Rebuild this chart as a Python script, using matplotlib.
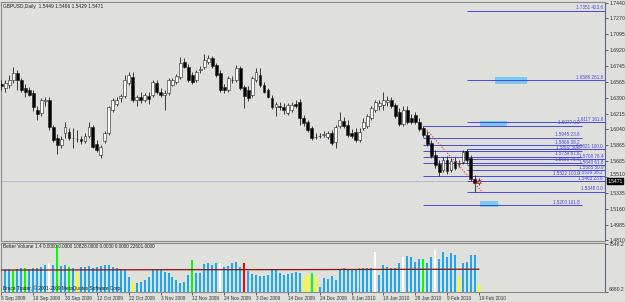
import matplotlib
matplotlib.use("Agg")
import matplotlib.pyplot as plt
import matplotlib.transforms as mtransforms
from matplotlib.patches import Rectangle

# GBPUSD daily candles, 8 Sep 2009 .. 19 Feb 2010
opens = [
    1.6543, 1.6498, 1.6532, 1.6587, 1.6664, 1.6587, 1.6498, 1.6476, 1.6443, 1.6255,
    1.6222, 1.6354, 1.6365, 1.6066, 1.5945, 1.5867, 1.6000, 1.6011, 1.5945, 1.5933,
    1.5933, 1.5911, 1.5967, 1.6066, 1.5878, 1.5756, 1.5911, 1.6000, 1.6255, 1.6321,
    1.6388, 1.6410, 1.6554, 1.6620, 1.6365, 1.6399, 1.6365, 1.6410, 1.6421, 1.6554,
    1.6454, 1.6421, 1.6443, 1.6532, 1.6565, 1.6620, 1.6786, 1.6731, 1.6642, 1.6587,
    1.6698, 1.6731, 1.6786, 1.6831, 1.6753, 1.6664, 1.6509, 1.6476, 1.6587, 1.6587,
    1.6720, 1.6509, 1.6476, 1.6421, 1.6587, 1.6642, 1.6532, 1.6476, 1.6388, 1.6288,
    1.6299, 1.6288, 1.6222, 1.6255, 1.6321, 1.6343, 1.6166, 1.6122, 1.6055, 1.5956,
    1.5967, 1.5978, 1.5956, 1.6000, 1.5900, 1.6077, 1.6133, 1.6089, 1.6000, 1.6011,
    1.5922, 1.6055, 1.6077, 1.6166, 1.6255, 1.6299, 1.6310, 1.6343, 1.6365, 1.6310,
    1.6233, 1.6100, 1.6255, 1.6166, 1.6199, 1.6122, 1.6055, 1.5978, 1.5889, 1.5756,
    1.5657, 1.5590, 1.5701, 1.5590, 1.5690, 1.5657, 1.5679, 1.5801, 1.5723, 1.5490,
    1.5449,
]
highs = [
    1.6587, 1.6587, 1.6642, 1.6731, 1.6698, 1.6609, 1.6543, 1.6509, 1.6476, 1.6299,
    1.6388, 1.6399, 1.6399, 1.6089, 1.5989, 1.5967, 1.6122, 1.6055, 1.6055, 1.6033,
    1.5967, 1.6000, 1.6122, 1.6089, 1.5922, 1.5867, 1.6022, 1.6299, 1.6388, 1.6399,
    1.6432, 1.6642, 1.6676, 1.6676, 1.6421, 1.6454, 1.6443, 1.6454, 1.6587, 1.6587,
    1.6498, 1.6476, 1.6609, 1.6609, 1.6653, 1.6842, 1.6831, 1.6764, 1.6676, 1.6698,
    1.6742, 1.6875, 1.6864, 1.6853, 1.6775, 1.6698, 1.6543, 1.6631, 1.6631, 1.6753,
    1.6742, 1.6532, 1.6520, 1.6631, 1.6720, 1.6720, 1.6565, 1.6498, 1.6421, 1.6343,
    1.6343, 1.6332, 1.6332, 1.6343, 1.6365, 1.6377, 1.6199, 1.6144, 1.6077, 1.6000,
    1.6000, 1.6022, 1.6022, 1.6033, 1.6089, 1.6233, 1.6177, 1.6144, 1.6044, 1.6055,
    1.6055, 1.6166, 1.6210, 1.6299, 1.6365, 1.6365, 1.6454, 1.6410, 1.6399, 1.6332,
    1.6277, 1.6299, 1.6299, 1.6210, 1.6233, 1.6166, 1.6077, 1.6022, 1.5922, 1.5812,
    1.5701, 1.5734, 1.5745, 1.5723, 1.5734, 1.5701, 1.5812, 1.5821, 1.5756, 1.5535,
    1.5496,
]
lows = [
    1.6476, 1.6454, 1.6498, 1.6554, 1.6476, 1.6454, 1.6399, 1.6410, 1.6244, 1.6144,
    1.6188, 1.6299, 1.6033, 1.5900, 1.5767, 1.5834, 1.5945, 1.5922, 1.5834, 1.5900,
    1.5878, 1.5889, 1.5945, 1.5834, 1.5790, 1.5723, 1.5889, 1.5978, 1.6233, 1.6299,
    1.6343, 1.6388, 1.6532, 1.6343, 1.6299, 1.6332, 1.6343, 1.6321, 1.6399, 1.6432,
    1.6399, 1.6255, 1.6421, 1.6520, 1.6543, 1.6598, 1.6720, 1.6565, 1.6543, 1.6565,
    1.6664, 1.6709, 1.6764, 1.6720, 1.6620, 1.6454, 1.6443, 1.6454, 1.6554, 1.6565,
    1.6476, 1.6277, 1.6354, 1.6399, 1.6565, 1.6509, 1.6443, 1.6388, 1.6266, 1.6188,
    1.6255, 1.6210, 1.6199, 1.6233, 1.6277, 1.6089, 1.6077, 1.6011, 1.5922, 1.5933,
    1.5945, 1.5956, 1.5933, 1.5867, 1.5834, 1.6055, 1.6055, 1.5956, 1.5945, 1.5900,
    1.5900, 1.6033, 1.6055, 1.6144, 1.6233, 1.6255, 1.6255, 1.6299, 1.6277, 1.6166,
    1.6077, 1.6077, 1.6100, 1.6100, 1.6100, 1.6022, 1.5956, 1.5856, 1.5723, 1.5612,
    1.5522, 1.5568, 1.5546, 1.5568, 1.5590, 1.5623, 1.5657, 1.5657, 1.5468, 1.5348,
    1.5429,
]
closes = [
    1.6520, 1.6554, 1.6587, 1.6664, 1.6587, 1.6476, 1.6454, 1.6421, 1.6288, 1.6210,
    1.6365, 1.6365, 1.6066, 1.5922, 1.5867, 1.5933, 1.6066, 1.5945, 1.5940, 1.5930,
    1.5911, 1.5967, 1.6066, 1.5845, 1.5812, 1.5845, 1.6000, 1.6288, 1.6365, 1.6365,
    1.6410, 1.6587, 1.6642, 1.6365, 1.6399, 1.6365, 1.6421, 1.6377, 1.6565, 1.6454,
    1.6421, 1.6443, 1.6587, 1.6587, 1.6631, 1.6775, 1.6731, 1.6587, 1.6565, 1.6676,
    1.6709, 1.6808, 1.6831, 1.6742, 1.6642, 1.6476, 1.6476, 1.6609, 1.6583, 1.6720,
    1.6498, 1.6410, 1.6388, 1.6609, 1.6676, 1.6532, 1.6454, 1.6399, 1.6288, 1.6321,
    1.6292, 1.6255, 1.6310, 1.6310, 1.6299, 1.6166, 1.6111, 1.6033, 1.5945, 1.5960,
    1.5963, 1.5989, 1.6000, 1.5889, 1.6066, 1.6144, 1.6077, 1.5978, 1.5967, 1.5922,
    1.6011, 1.6122, 1.6188, 1.6277, 1.6343, 1.6332, 1.6365, 1.6365, 1.6299, 1.6188,
    1.6100, 1.6255, 1.6122, 1.6122, 1.6122, 1.6044, 1.5978, 1.5878, 1.5745, 1.5645,
    1.5568, 1.5701, 1.5579, 1.5690, 1.5612, 1.5664, 1.5790, 1.5701, 1.5490, 1.5449,
    1.5471,
]

# Better Volume histogram (indicator scale) and its special-colour bars
volumes = [
    7232, 7195, 7195, 7185, 7195, 7209, 7209, 7195, 7209, 7218,
    7222, 7255, 7287, 7255, 7532, 7241, 7255, 7232, 7218, 7139,
    7232, 7222, 7241, 7218, 7232, 7241, 7255, 7255, 7232, 7209,
    7195, 7195, 7084, 7024, 7000, 7024, 7047, 7093, 7185, 7199,
    7185, 7162, 7139, 7084, 7047, 7010, 7024, 7116, 7324, 7148,
    7139, 7264, 7287, 7255, 7278, 7278, 7232, 7241, 7287, 7301,
    7232, 7278, 7176, 7130, 7116, 7102, 7102, 7116, 7185, 7195,
    7148, 7116, 7130, 7139, 7162, 7139, 7084, 7116, 7139, 7084,
    6950, 7070, 7056, 7102, 7047, 7195, 7209, 7195, 7185, 7195,
    7209, 7209, 7209, 7209, 7440, 7116, 7255, 7232, 7209, 7209,
    7287, 7370, 7380, 7361, 7301, 7333, 7333, 7287, 7361, 7463,
    7333, 7440, 7361, 7417, 7394, 7084, 7278, 7301, 7394, 7394,
    6977,
]
special_bars = {
    3: 'lime', 6: 'lime', 12: 'white', 14: 'lime', 17: 'lime', 19: 'yellow',
    33: 'yellow', 48: 'lime', 55: 'white', 61: 'red', 76: 'yellow', 77: 'yellow',
    78: 'lime', 79: 'yellow', 94: 'white', 101: 'white', 106: 'lime', 109: 'white',
    115: 'yellow', 120: 'yellow',
}
ma_idx = [0, 15, 30, 45, 60, 75, 90, 105, 120]
ma_vals = [7185, 7186, 7188, 7190, 7190, 7191, 7193, 7195, 7196]

# Fibonacci objects: (price, ratio)
fib_a = [(1.6077, '0.0'), (1.5945, '23.6'), (1.5866, '38.2'), (1.5802, '50.0'),
         (1.5739, '61.8'), (1.5669, '76.4'), (1.5522, '100.0'), (1.5200, '161.8')]
fib_b = [(1.5348, '0.0'), (1.5463, '23.6'), (1.5529, '38.2'), (1.5585, '50.0'),
         (1.5640, '61.8'), (1.5709, '76.4'), (1.5821, '100.0'), (1.6117, '161.8'),
         (1.6586, '261.8'), (1.7351, '423.6')]
fib_a_span = (106, 145.9)
fib_b_span = (117, 151.7)
# target boxes: (first bar, last bar, low, high)
zones = [(124.0, 132.1, 1.6543, 1.6620), (120.3, 127.0, 1.6066, 1.6133),
         (120.3, 124.8, 1.5180, 1.5247)]
trend_x = [106, 121]
trend_p = [1.6077, 1.5340]
bid = 1.5471

price_ticks = [1.7440, 1.7270, 1.7095, 1.6920, 1.6745, 1.6565, 1.6390, 1.6215,
               1.6040, 1.5865, 1.5685, 1.5510, 1.5335, 1.5160, 1.4985, 1.4810]
date_labels = ['8 Sep 2009', '18 Sep 2009', '30 Sep 2009', '12 Oct 2009',
               '22 Oct 2009', '3 Nov 2009', '12 Nov 2009', '24 Nov 2009',
               '3 Dec 2009', '14 Dec 2009', '24 Dec 2009', '6 Jan 2010',
               '18 Jan 2010', '28 Jan 2010', '9 Feb 2010', '19 Feb 2010']
date_idx = [8 * k for k in range(len(date_labels))]

W, H = 625, 302
BG = '#dfdfdc'
FIB = '#4848e4'
AXC = '#5c6488'
plt.rcParams['font.family'] = ['Liberation Sans', 'DejaVu Sans']


def box(x0, y0, x1, y1):
    # figure rectangle from pixel edges, y counted from the top
    return [x0 / W, 1 - y1 / H, (x1 - x0) / W, (y1 - y0) / H]


fig = plt.figure(figsize=(W / 100, H / 100), dpi=100, facecolor=BG)
ax = fig.add_axes(box(1, 2, 605, 241), facecolor=BG)
axv = fig.add_axes(box(1, 243, 605, 292), facecolor=BG)

n = len(opens)
idx = list(range(n))
xlim = (-0.1, 151.7)

# --- price window ---
ax.axhline(bid, color='#aab4d6', lw=0.6, zorder=1)
for x0, x1, lo, hi in zones:
    ax.add_patch(Rectangle((x0, lo), x1 - x0, hi - lo, color='#78c8f0', lw=0, zorder=2))
for p, r in fib_a:
    ax.hlines(p, *fib_a_span, color=FIB, lw=0.7, zorder=3)
    ax.text(fib_a_span[1] - 0.5, p + 0.0006, f'{p:.4f} {r}', fontsize=3.3,
            color=FIB, ha='right', va='bottom', zorder=6)
for p, r in fib_b:
    ax.hlines(p, *fib_b_span, color=FIB, lw=0.7, zorder=3)
    ax.text(fib_b_span[1] - 0.5, p + 0.0006, f'{p:.4f} {r}', fontsize=3.3,
            color=FIB, ha='right', va='bottom', zorder=6)

ax.vlines(idx, lows, highs, color='#202020', lw=0.6, zorder=4)
bodies = [c - o for o, c in zip(opens, closes)]
body_cols = ['white' if c >= o else 'black' for o, c in zip(opens, closes)]
ax.bar(idx, bodies, bottom=opens, width=0.72, color=body_cols,
       edgecolor='#202020', linewidth=0.4, zorder=5)
ax.plot(trend_x, trend_p, color='#e03434', lw=0.8, ls=(0, (1, 1.5)), zorder=6)
ax.plot([n - 1], [bid], marker='x', color='#e03434', ms=2.5, mew=0.6, zorder=7)

ax.set_xlim(*xlim)
ax.set_ylim(1.7473 - 0.0011076 * 241, 1.7473 - 0.0011076 * 2)
ax.set_xticks([])
ax.yaxis.tick_right()
ax.set_yticks(price_ticks, labels=[f'{p:.4f}' for p in price_ticks])
ax.tick_params(axis='y', length=2, width=0.5, pad=1, labelsize=3.7,
               colors='#303030')
# the 1.5510 label sits just above the current-price tag
ax.get_yticklabels()[price_ticks.index(1.5510)].set_verticalalignment('bottom')
ax.text(0.003, 0.99, 'GBPUSD,Daily  1.5449 1.5496 1.5429 1.5471',
        transform=ax.transAxes, va='top', ha='left', fontsize=3.5, color='#202020')
tr = mtransforms.blended_transform_factory(ax.transAxes, ax.transData)
ax.text(1.004, bid - 0.0004, f'{bid:.4f}', transform=tr, fontsize=3.6, color='white',
        va='center', ha='left', zorder=10, clip_on=False,
        bbox=dict(boxstyle='square,pad=0.12', fc='black', ec='black'))

# --- volume window ---
vol_cols = [special_bars.get(i, '#1ea8ee') for i in idx]
axv.bar(idx, volumes, width=0.5, color=vol_cols, linewidth=0, zorder=2)
axv.plot(ma_idx, ma_vals, color='#8a1010', lw=0.9, zorder=3)
axv.set_xlim(*xlim)
axv.set_ylim(6880.2, 7560)
axv.yaxis.tick_right()
axv.set_yticks([6880.2, 7546.2], labels=['6880.2', '7546.2'])
axv.tick_params(axis='y', length=2, width=0.5, pad=1, labelsize=3.7, colors='#303030')
axv.get_yticklabels()[0].set_verticalalignment('bottom')
axv.set_xticks(date_idx, labels=date_labels)
axv.tick_params(axis='x', length=2, width=0.5, pad=0.8, labelsize=3.4, colors='#303030')
for lab in axv.get_xticklabels():
    lab.set_horizontalalignment('left')
axv.text(0.003, 0.97, 'Better Volume 1.4 0.0000 0.0000 10828.0000 0.0000 0.0000 22601.0000',
         transform=axv.transAxes, va='top', ha='left', fontsize=3.4, color='#202020')
axv.text(0.003, 0.03, 'Bruce Trader, \u00a9 2001-2009 MetaQuotes Software Corp.',
         transform=axv.transAxes, va='bottom', ha='left', fontsize=3.4, color='#202020',
         zorder=5)

for a in (ax, axv):
    for side in ('left', 'top', 'bottom'):
        a.spines[side].set_color('#8a8a8a')
        a.spines[side].set_linewidth(0.8)
    a.spines['right'].set_color(AXC)
    a.spines['right'].set_linewidth(0.8)

fig.savefig('out.png', dpi=100, facecolor=BG)
